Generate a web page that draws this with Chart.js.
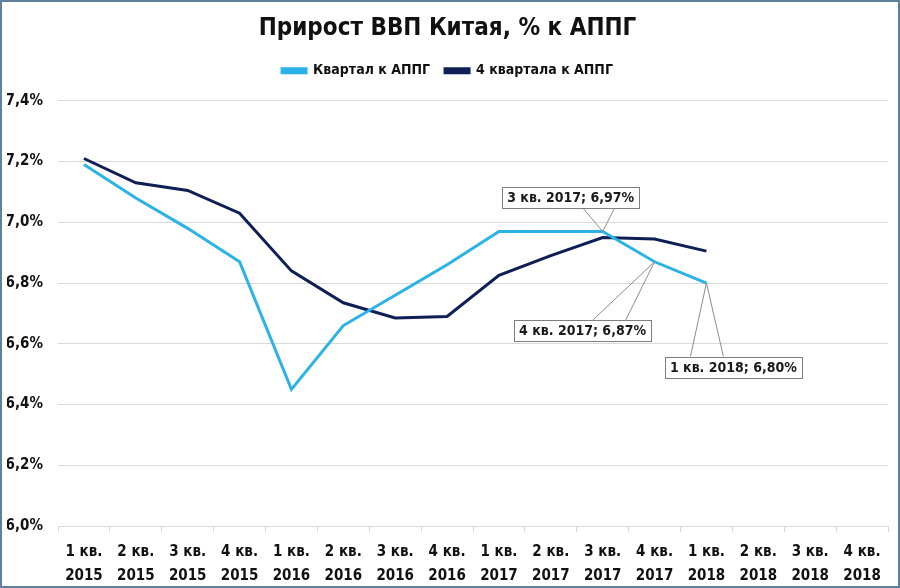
<!DOCTYPE html>
<html>
<head>
<meta charset="utf-8">
<script src="https://cdn.jsdelivr.net/npm/chart.js@4.4.1/dist/chart.umd.min.js"></script>
<style>
    html, body { margin: 0; padding: 0; background: #fff; }
    .wrap { width: 900px; height: 588px; box-sizing: border-box; border: 2px solid #5f819c; position: relative; }
    canvas { display: block; }
</style>
</head>
<body>
<div class="wrap"><canvas id="gdpChart" width="896" height="584"></canvas></div>
<script>
// Категории (кварталы)
const quarters = [
    ['1 кв.', '2015'], ['2 кв.', '2015'], ['3 кв.', '2015'], ['4 кв.', '2015'],
    ['1 кв.', '2016'], ['2 кв.', '2016'], ['3 кв.', '2016'], ['4 кв.', '2016'],
    ['1 кв.', '2017'], ['2 кв.', '2017'], ['3 кв.', '2017'], ['4 кв.', '2017'],
    ['1 кв.', '2018'], ['2 кв.', '2018'], ['3 кв.', '2018'], ['4 кв.', '2018']
];

// Квартал к АППГ
const quarterYoY = [7.19, 7.08, 6.98, 6.87, 6.45, 6.66, 6.76, 6.86, 6.97, 6.97, 6.97, 6.87, 6.80,
    null, null, null];

// 4 квартала к АППГ
const fourQuarterYoY = [7.21, 7.13, 7.105, 7.03, 6.84, 6.735, 6.685, 6.69, 6.825, 6.89, 6.95, 6.945, 6.905,
    null, null, null];

// Подписанные точки ряда "Квартал к АППГ"
const labeledPoints = [10, 11, 12];

const yTicks = [6.0, 6.2, 6.4, 6.6, 6.8, 7.0, 7.2, 7.4];

const FONT = "'Liberation Sans Narrow', 'DejaVu Sans Condensed', Arial, sans-serif";

function fmt(v) {
    return v.toFixed(2).replace('.', ',') + '%';
}

// Выноски: смещение центра рамки от точки и основания линий относительно центра рамки
const calloutLayout = {
    10: { dx: -32, dy: -34, base: [12, 44] },
    11: { dx: -72, dy: 69, base: [10, 43] },
    12: { dx: 27, dy: 84, base: [-43, -10] }
};

const calloutPlugin = {
    id: 'callouts',
    afterDatasetsDraw(chart) {
        const ctx = chart.ctx;
        const meta = chart.getDatasetMeta(0);
        ctx.save();
        ctx.font = 'bold 14px ' + FONT;
        labeledPoints.forEach(i => {
            const pt = meta.data[i];
            const lay = calloutLayout[i];
            const text = quarters[i].join(' ') + '; ' + fmt(quarterYoY[i]);
            const w = ctx.measureText(text).width + 10;
            const h = 21;
            const cx = pt.x + lay.dx;
            const cy = pt.y + lay.dy;
            const edgeY = lay.dy < 0 ? cy + h / 2 : cy - h / 2;
            // линии выноски
            ctx.strokeStyle = '#8c8c8c';
            ctx.lineWidth = 1;
            ctx.beginPath();
            ctx.moveTo(cx + lay.base[0], edgeY);
            ctx.lineTo(pt.x, pt.y);
            ctx.lineTo(cx + lay.base[1], edgeY);
            ctx.stroke();
            // рамка
            ctx.fillStyle = '#fff';
            ctx.fillRect(cx - w / 2, cy - h / 2, w, h);
            ctx.strokeStyle = '#7f7f7f';
            ctx.strokeRect(Math.round(cx - w / 2) + 0.5, Math.round(cy - h / 2) + 0.5, Math.round(w), h);
            ctx.fillStyle = '#1a1a1a';
            ctx.textAlign = 'center';
            ctx.textBaseline = 'middle';
            ctx.fillText(text, cx, cy + 1);
        });
        ctx.restore();
    }
};

// Дополнительный отступ под легендой
const legendSpacer = {
    id: 'legendSpacer',
    beforeInit(chart) {
        const fit = chart.legend.fit;
        chart.legend.fit = function() {
            fit.bind(chart.legend)();
            this.height += 13;
        };
    }
};

new Chart(document.getElementById('gdpChart'), {
    type: 'line',
    data: {
        labels: quarters,
        datasets: [{
            label: 'Квартал к АППГ',
            data: quarterYoY,
            borderColor: '#2bb2e6',
            backgroundColor: '#2bb2e6',
            borderWidth: 3,
            pointRadius: 0,
            tension: 0
        }, {
            label: '4 квартала к АППГ',
            data: fourQuarterYoY,
            borderColor: '#0f1f55',
            backgroundColor: '#0f1f55',
            borderWidth: 3,
            pointRadius: 0,
            tension: 0
        }]
    },
    options: {
        responsive: false,
        animation: false,
        layout: { padding: { left: 5, right: 10, top: 8, bottom: 0 } },
        plugins: {
            title: {
                display: true,
                text: 'Прирост ВВП Китая, % к АППГ',
                color: '#111',
                font: { family: FONT, size: 24, weight: 'bold' },
                padding: { top: 4, bottom: 6 }
            },
            legend: {
                position: 'top',
                labels: {
                    boxWidth: 24,
                    boxHeight: 4,
                    color: '#111',
                    font: { family: FONT, size: 14, weight: 'bold' },
                    padding: 15
                }
            },
            tooltip: { enabled: false }
        },
        scales: {
            x: {
                offset: true,
                afterFit(axis) { axis.height = 60; },
                grid: { offset: true, drawOnChartArea: false, tickLength: 6, color: '#d9d9d9' },
                border: { color: '#d9d9d9' },
                ticks: {
                    color: '#111',
                    maxRotation: 0,
                    autoSkip: false,
                    font: { family: FONT, size: 15, weight: 'bold', lineHeight: 1.6 },
                    padding: 8
                }
            },
            y: {
                min: 6.0,
                max: 7.4,
                afterFit(axis) { axis.width = 51; },
                afterBuildTicks(axis) {
                    axis.ticks = yTicks.map(v => ({ value: v }));
                },
                grid: { color: '#d9d9d9', drawTicks: false },
                border: { display: false },
                ticks: {
                    color: '#111',
                    padding: 15,
                    font: { family: FONT, size: 15, weight: 'bold' },
                    callback: v => v.toFixed(1).replace('.', ',') + '%'
                }
            }
        }
    },
    plugins: [legendSpacer, calloutPlugin]
});
</script>
</body>
</html>
